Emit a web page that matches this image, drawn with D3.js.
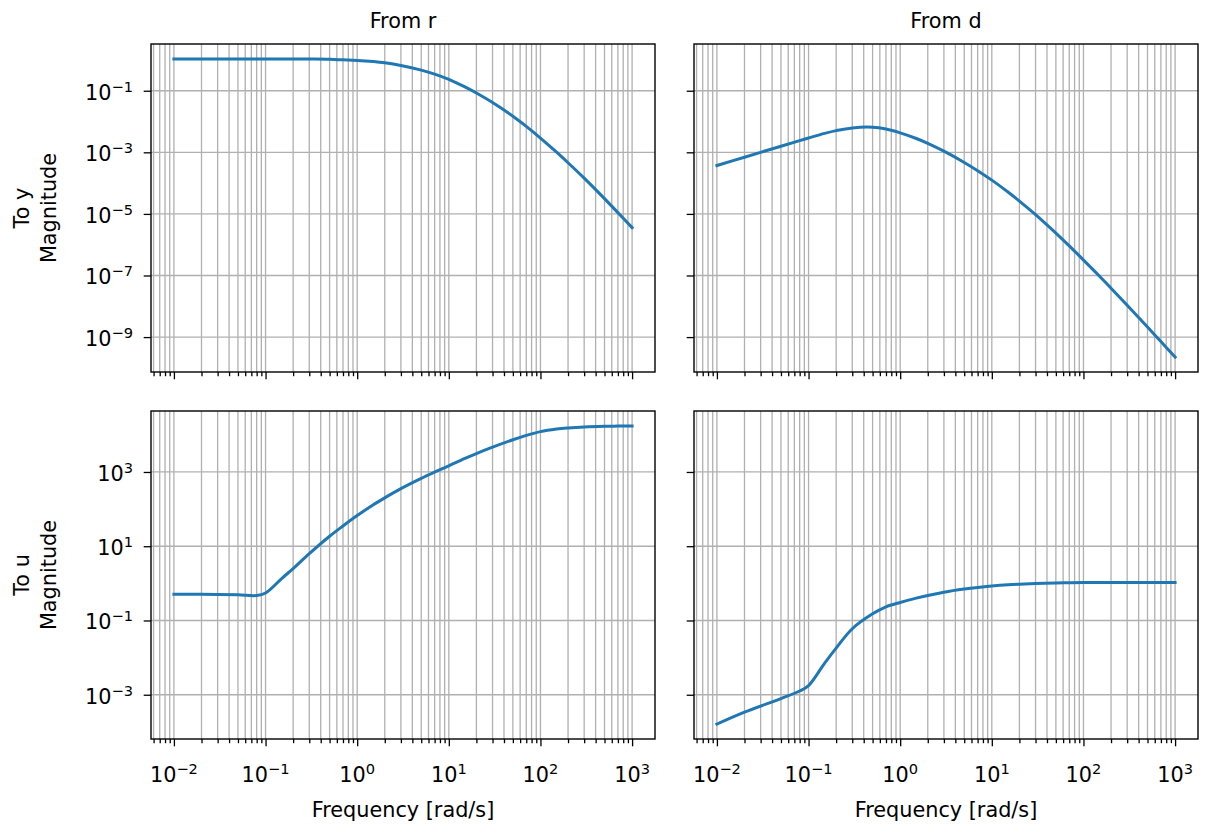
<!DOCTYPE html>
<html>
<head>
<meta charset="utf-8">
<script src="https://cdn.jsdelivr.net/npm/d3@7"></script>
<style>
	body { margin: 0; background: #fff; }
	text { font-family: 'DejaVu Sans', sans-serif; fill: #000; }
</style>
</head>
<body>
<svg id="chart" width="1208" height="831"></svg>
<script>
// frequency samples [rad/s], shared by the four responses
var freqs = [0.01, 0.02, 0.05, 0.08, 0.1, 0.15, 0.2, 0.3, 0.5, 0.7, 1, 1.5, 2, 3, 5, 7, 10, 15, 20, 30, 50, 70, 100, 150, 200, 300, 500, 700, 1000];

// magnitudes
var magRtoY = [1.08, 1.08, 1.08, 1.08, 1.08, 1.08, 1.08, 1.07, 1.05, 1.01, 0.966, 0.883, 0.804, 0.661, 0.467, 0.348, 0.235, 0.133, 0.0841, 0.0414, 0.0149, 6.98e-3, 2.91e-3, 1.01e-3, 4.59e-4, 1.45e-4, 3.13e-5, 1.10e-5, 3.58e-6];
var magDtoY = [3.72e-4, 6.92e-4, 1.58e-3, 2.40e-3, 2.92e-3, 4.12e-3, 5.07e-3, 6.21e-3, 6.53e-3, 5.71e-3, 4.30e-3, 2.81e-3, 1.96e-3, 1.09e-3, 4.69e-4, 2.54e-4, 1.25e-4, 5.13e-5, 2.61e-5, 9.46e-6, 2.38e-6, 9.14e-7, 3.19e-7, 9.46e-8, 3.87e-8, 1.08e-8, 2.11e-9, 7.14e-10, 2.24e-10];
var magRtoU = [0.51, 0.51, 0.49, 0.47, 0.55, 1.35, 2.5, 6.3, 18.6, 35.2, 67, 131, 201, 355, 671, 989, 1470, 2310, 3130, 4650, 7360, 9640, 12200, 14300, 15300, 16300, 17000, 17200, 17400];
var magDtoU = [1.62e-4, 3.4e-4, 7.9e-4, 1.26e-3, 1.76e-3, 7.1e-3, 0.018, 0.06, 0.151, 0.234, 0.306, 0.40, 0.473, 0.579, 0.703, 0.778, 0.847, 0.912, 0.946, 0.986, 1.022, 1.04, 1.052, 1.06, 1.06, 1.06, 1.06, 1.06, 1.06];

var colTitles = ['From r', 'From d'];
var rowLabels = ['To y', 'To u'];
var xTickExps = [-2, -1, 0, 1, 2, 3];
var yTickExps = [[-9, -7, -5, -3, -1], [-3, -1, 1, 3]];

var svg = d3.select('#chart');
var colX = [151, 694];
var rowY = [44, 411];
var panelW = 504;
var panelH = 328;
var fontSize = 20.8;
var supSize = 14.6;

var series = [[magRtoY, magDtoY], [magRtoU, magDtoU]];

// log axis limits with matplotlib style 5% margins
function logDomain(values) {
	var lo = Math.log10(d3.min(values));
	var hi = Math.log10(d3.max(values));
	var pad = (hi - lo) * 0.05;
	return [Math.pow(10, lo - pad), Math.pow(10, hi + pad)];
}

function powLabel(sel, e) {
	sel.append('tspan').text('10');
	sel.append('tspan')
		.attr('dy', -8)
		.attr('font-size', supSize)
		.text(e < 0 ? '\u2212' + (-e) : String(e));
}

// minor ticks 2..9 per decade inside the domain
function minorTicks(domain) {
	var out = [];
	var lo = Math.floor(Math.log10(domain[0]));
	var hi = Math.ceil(Math.log10(domain[1]));
	for (var p = lo; p <= hi; p++) {
		for (var k = 2; k <= 9; k++) {
			var v = k * Math.pow(10, p);
			if (v >= domain[0] && v <= domain[1]) out.push(v);
		}
	}
	return out;
}

var xDomain = logDomain(freqs);
var xMinor = minorTicks(xDomain);

function drawPanel(row, col) {
	var data = series[row][col];
	var yDomain = logDomain(series[row][0].concat(series[row][1]));
	var x = d3.scaleLog().domain(xDomain).range([0, panelW]);
	var y = d3.scaleLog().domain(yDomain).range([panelH, 0]);
	var g = svg.append('g').attr('transform', 'translate(' + colX[col] + ',' + rowY[row] + ')');
	var xMajor = xTickExps.map(function(e){return Math.pow(10, e);});
	var yMajor = yTickExps[row].map(function(e){return Math.pow(10, e);});

	//grid: all x ticks, major y ticks
	g.append('g').selectAll('line.gx')
		.data(xMajor.concat(xMinor))
		.enter().append('line')
		.attr('x1', function(d){return x(d);})
		.attr('x2', function(d){return x(d);})
		.attr('y1', 0).attr('y2', panelH)
		.attr('stroke', '#b0b0b0').attr('stroke-width', 1.3);
	g.append('g').selectAll('line.gy')
		.data(yMajor)
		.enter().append('line')
		.attr('y1', function(d){return y(d);})
		.attr('y2', function(d){return y(d);})
		.attr('x1', 0).attr('x2', panelW)
		.attr('stroke', '#b0b0b0').attr('stroke-width', 1.3);

	//response curve
	var line = d3.line()
		.x(function(d){return x(d[0]);})
		.y(function(d){return y(d[1]);})
		.curve(d3.curveCatmullRom.alpha(0.5));
	g.append('path')
		.datum(freqs.map(function(f, i){return [f, data[i]];}))
		.attr('d', line)
		.attr('fill', 'none')
		.attr('stroke', '#1f77b4')
		.attr('stroke-width', 3)
		.attr('stroke-linecap', 'square');

	//ticks
	var xAxis = g.append('g').attr('transform', 'translate(0,' + panelH + ')');
	xAxis.call(d3.axisBottom(x).tickValues(xMajor).tickSize(7.3).tickFormat(''));
	var xAxisMinor = g.append('g').attr('transform', 'translate(0,' + panelH + ')');
	xAxisMinor.call(d3.axisBottom(x).tickValues(xMinor).tickSize(4.2).tickFormat(''));
	var yAxis = g.append('g');
	yAxis.call(d3.axisLeft(y).tickValues(yMajor).tickSize(7.3).tickFormat(''));
	g.selectAll('.domain').remove();
	g.selectAll('.tick line').attr('stroke', '#000').attr('stroke-width', 1.3);

	//frame
	g.append('rect')
		.attr('width', panelW).attr('height', panelH)
		.attr('fill', 'none').attr('stroke', '#000').attr('stroke-width', 1.4);

	if (row === 1) {
		g.append('g').selectAll('text')
			.data(xTickExps)
			.enter().append('text')
			.attr('x', function(e){return x(Math.pow(10, e));})
			.attr('y', panelH + 43)
			.attr('text-anchor', 'middle')
			.attr('font-size', fontSize)
			.each(function(e){powLabel(d3.select(this), e);});
		g.append('text')
			.attr('x', panelW / 2).attr('y', panelH + 78)
			.attr('text-anchor', 'middle')
			.attr('font-size', fontSize)
			.text('Frequency [rad/s]');
	}

	if (col === 0) {
		g.append('g').selectAll('text')
			.data(yTickExps[row])
			.enter().append('text')
			.attr('x', -18)
			.attr('y', function(e){return y(Math.pow(10, e)) + 9;})
			.attr('text-anchor', 'end')
			.attr('font-size', fontSize)
			.each(function(e){powLabel(d3.select(this), e);});
		var lab = g.append('text')
			.attr('transform', 'translate(' + (-122) + ',' + (panelH / 2) + ') rotate(-90)')
			.attr('text-anchor', 'middle')
			.attr('font-size', fontSize);
		lab.append('tspan').attr('x', 0).attr('y', 0).text(rowLabels[row]);
		lab.append('tspan').attr('x', 0).attr('y', 27).text('Magnitude');
	}

	if (row === 0) {
		g.append('text')
			.attr('x', panelW / 2).attr('y', -16)
			.attr('text-anchor', 'middle')
			.attr('font-size', fontSize)
			.text(colTitles[col]);
	}
}

for (var r = 0; r < 2; r++) {
	for (var c = 0; c < 2; c++) {
		drawPanel(r, c);
	}
}
</script>
</body>
</html>
